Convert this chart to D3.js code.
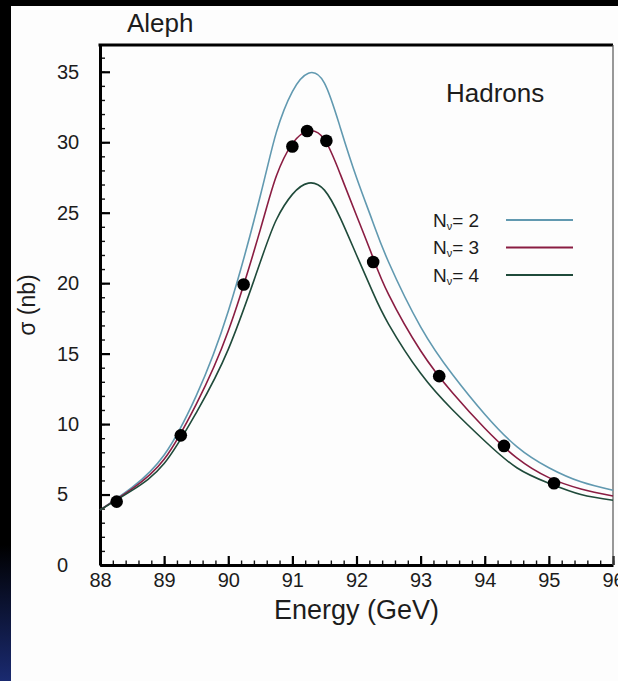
<!DOCTYPE html>
<html>
<head>
<meta charset="utf-8">
<script src="https://cdnjs.cloudflare.com/ajax/libs/d3/7.8.5/d3.min.js"></script>
<style>
body { margin: 0; background: #000; overflow: hidden; }
text { font-family: "Liberation Sans", Arial, sans-serif; fill: #1c1c1c; }
</style>
</head>
<body>
<script>
var energy = [88.0, 88.5, 89.0, 89.5, 90.0, 90.5, 90.75, 91.0, 91.25, 91.5, 91.75, 92.0, 92.25, 92.5, 93.0, 93.5, 94.0, 94.5, 95.0, 95.5, 96.0];
//cross section for 2, 3 and 4 neutrino families (nb)
var sigmaN2 = [3.9, 5.5, 7.8, 12.0, 18.0, 26.2, 30.7, 33.6, 34.9, 34.2, 31.0, 27.5, 24.4, 21.5, 16.9, 13.5, 10.7, 8.4, 6.9, 5.9, 5.3];
var sigmaN3 = [3.9, 5.4, 7.5, 11.4, 16.6, 23.8, 27.6, 29.9, 30.8, 30.2, 27.7, 24.8, 21.9, 19.2, 15.2, 12.2, 9.7, 7.6, 6.2, 5.4, 4.9];
var sigmaN4 = [3.9, 5.3, 7.2, 10.8, 15.3, 21.5, 24.5, 26.3, 27.1, 26.6, 24.6, 22.0, 19.4, 17.1, 13.6, 11.0, 8.8, 6.9, 5.8, 5.0, 4.6];
//measured points
var dataEnergy = [88.26, 89.26, 90.24, 91.0, 91.23, 91.53, 92.26, 93.29, 94.3, 95.08];
var dataSigma = [4.5, 9.2, 19.9, 29.7, 30.8, 30.1, 21.5, 13.4, 8.45, 5.8];
//legend labels
var seriesNames = ["2", "3", "4"];
//tick labels
var xTicks = [88, 89, 90, 91, 92, 93, 94, 95, 96];
var yTicks = [0, 5, 10, 15, 20, 25, 30, 35];

var width = 618;
var height = 681;
var colors = ["#6199b0", "#8a1d42", "#1f4a3a"];

var svg = d3.select("body").append("svg").attr("width", width).attr("height", height);

//dark frame, bluish towards the bottom left
var defs = svg.append("defs");
var grad = defs.append("linearGradient").attr("id", "edge").attr("x1", 0).attr("y1", 0).attr("x2", 0).attr("y2", 1);
grad.append("stop").attr("offset", "0.8").attr("stop-color", "#000");
grad.append("stop").attr("offset", "1").attr("stop-color", "#1a2a70");
svg.append("rect").attr("width", width).attr("height", height).attr("fill", "url(#edge)");
//white sheet
svg.append("rect").attr("x", 11).attr("y", 6).attr("width", width - 11).attr("height", height - 6).attr("fill", "#fdfdfd");

var x = d3.scaleLinear().domain([88, 96]).range([100, 613]);
var y = d3.scaleLinear().domain([0, 36.9]).range([565, 45]);

//minor ticks first so the major ones sit on top
svg.append("g").attr("transform", "translate(0,565)")
    .call(d3.axisBottom(x).tickValues(d3.range(88, 96.01, 0.2)).tickFormat("").tickSizeInner(-4.5).tickSizeOuter(0))
    .call(function (g) { g.select(".domain").remove(); g.selectAll("line").attr("stroke", "#111").attr("stroke-width", 1.4); });
svg.append("g").attr("transform", "translate(100,0)")
    .call(d3.axisLeft(y).tickValues(d3.range(0, 37, 1)).tickFormat("").tickSizeInner(-5).tickSizeOuter(0))
    .call(function (g) { g.select(".domain").remove(); g.selectAll("line").attr("stroke", "#111").attr("stroke-width", 1.4); });

//major ticks and labels
var xAxis = svg.append("g").attr("transform", "translate(0,565)")
    .call(d3.axisBottom(x).tickValues(xTicks).tickFormat(d3.format("d")).tickSizeInner(-9).tickSizeOuter(0).tickPadding(8));
xAxis.select(".domain").attr("stroke", "#000").attr("stroke-width", 3);
xAxis.selectAll("line").attr("stroke", "#000").attr("stroke-width", 2.2);
xAxis.selectAll("text").style("font-size", "20px").attr("fill", "#1c1c1c");

var yAxis = svg.append("g").attr("transform", "translate(100,0)")
    .call(d3.axisLeft(y).tickValues(yTicks).tickFormat(d3.format("d")).tickSizeInner(-10).tickSizeOuter(0).tickPadding(18));
yAxis.select(".domain").attr("stroke", "#000").attr("stroke-width", 3);
yAxis.selectAll("line").attr("stroke", "#000").attr("stroke-width", 2.2);
//labels are left aligned in the original
yAxis.selectAll("text").attr("text-anchor", "start").attr("x", -43).style("font-size", "20px").attr("fill", "#1c1c1c");

//frame top and right
svg.append("line").attr("x1", x(88) - 1.5).attr("x2", x(96)).attr("y1", y(36.9)).attr("y2", y(36.9)).attr("stroke", "#000").attr("stroke-width", 3);
svg.append("line").attr("x1", x(96)).attr("x2", x(96)).attr("y1", y(36.9)).attr("y2", y(0)).attr("stroke", "#555").attr("stroke-width", 1.2);

//curves, smooth spline through the read points
var curves = [sigmaN2, sigmaN3, sigmaN4];
var line = d3.line().x(function (d, i) {
    return x(energy[i]);
}).y(function (d) {
    return y(d);
}).curve(d3.curveNatural);
svg.selectAll(".curve").data(curves).enter().append("path").attr("class", "curve")
    .attr("d", function (d) { return line(d); })
    .attr("fill", "none").attr("stroke", function (d, i) { return colors[i]; }).attr("stroke-width", 1.6);

//measured points
svg.selectAll(".dot").data(dataEnergy).enter().append("circle").attr("class", "dot")
    .attr("cx", function (d) { return x(d); })
    .attr("cy", function (d, i) { return y(dataSigma[i]); })
    .attr("r", 6.3).attr("fill", "#000");

//legend
var legend = svg.selectAll(".legend").data(seriesNames).enter().append("g").attr("class", "legend")
    .attr("transform", function (d, i) { return "translate(433," + (220 + i * 27.5) + ")"; });
var lt = legend.append("text").attr("y", 6.5).style("font-size", "19px");
lt.append("tspan").text("N");
lt.append("tspan").attr("dy", 3).style("font-size", "11px").text("ν");
lt.append("tspan").attr("dy", -3).text("= ");
lt.append("tspan").text(function (d) { return d; });
legend.append("line").attr("x1", 73).attr("x2", 140).attr("y1", 0).attr("y2", 0)
    .attr("stroke", function (d, i) { return colors[i]; }).attr("stroke-width", 2);

//titles
svg.append("text").attr("x", 127).attr("y", 32).style("font-size", "26px").text("Aleph");
svg.append("text").attr("x", 446).attr("y", 102).style("font-size", "26px").text("Hadrons");
svg.append("text").attr("x", (x(88) + x(96)) / 2).attr("y", 619).attr("text-anchor", "middle").style("font-size", "27px").text("Energy (GeV)");
svg.append("text").attr("transform", "translate(35," + y(36.9 / 2) + ") rotate(-90)").attr("text-anchor", "middle").style("font-size", "23px").text("σ (nb)");
</script>
</body>
</html>
